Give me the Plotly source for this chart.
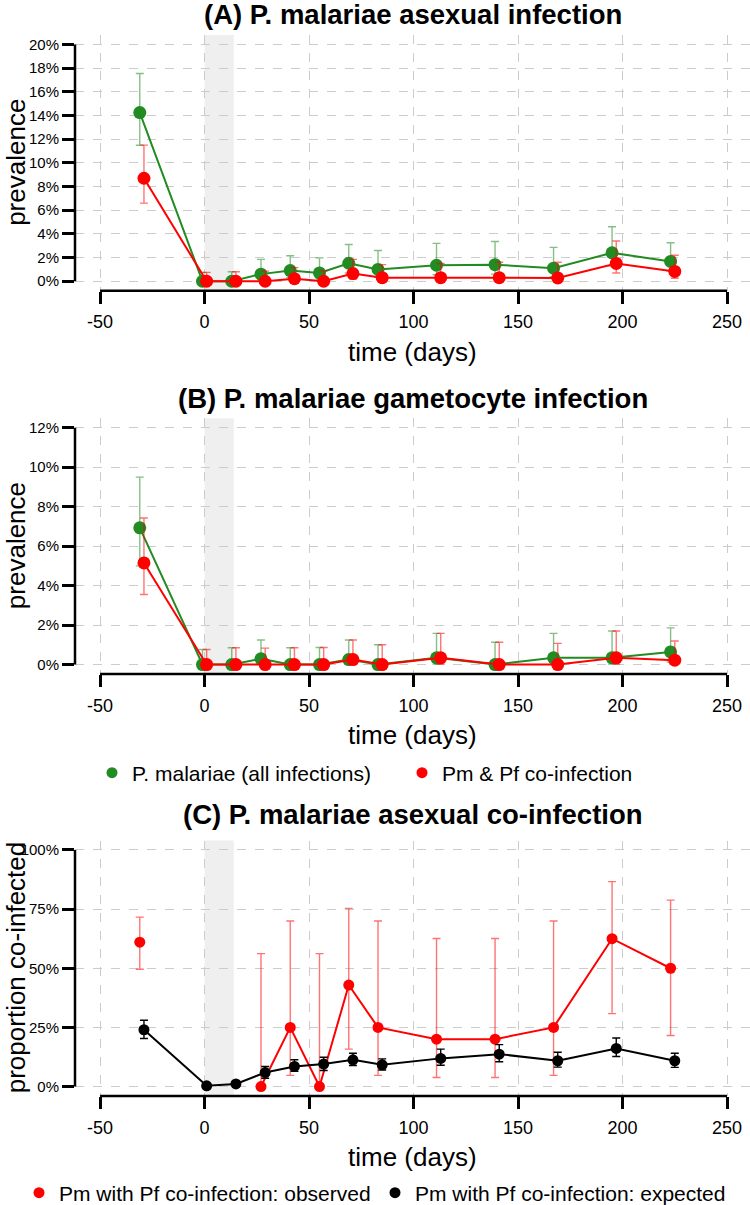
import plotly.graph_objects as go

W, H = 750, 1205
ML = 75  # left margin in px
FONT = "Liberation Sans, Arial, sans-serif"

# ---------------- data ----------------
TIMES = [-30, 0, 14, 28, 42, 56, 70, 84, 112, 140, 168, 196, 224]
TREAT_START, TREAT_END = 0, 14
X_TICKS = [-50, 0, 50, 100, 150, 200, 250]

# Panel A: asexual prevalence (%)
A_ALL = [14.25, 0, 0, 0.6, 0.9, 0.7, 1.52, 1.0, 1.35, 1.4, 1.1, 2.4, 1.67]
A_ALL_HI = [17.55, 0.75, 0.8, 1.85, 2.15, 1.97, 3.1, 2.6, 3.2, 3.35, 2.86, 4.6, 3.25]
A_ALL_LO = [11.49, 0, 0, 0.15, 0.3, 0.2, 0.7, 0.35, 0.55, 0.6, 0.38, 1.3, 0.85]
A_CO = [8.7, 0, 0, 0, 0.22, 0, 0.65, 0.3, 0.3, 0.3, 0.28, 1.5, 0.83]
A_CO_HI = [11.5, 0.75, 0.8, 0.85, 1.15, 0.9, 1.85, 1.4, 1.5, 1.6, 1.6, 3.4, 2.2]
A_CO_LO = [6.6, 0, 0, 0, 0.03, 0, 0.18, 0.04, 0.04, 0.04, 0.04, 0.7, 0.25]
A_YTICKS = [0, 2, 4, 6, 8, 10, 12, 14, 16, 18, 20]

# Panel B: gametocyte prevalence (%)
B_ALL = [6.93, 0, 0, 0.29, 0, 0, 0.25, 0, 0.34, 0, 0.34, 0.34, 0.64]
B_ALL_HI = [9.5, 0.76, 0.85, 1.24, 0.85, 0.86, 1.24, 1.0, 1.58, 1.13, 1.58, 1.7, 1.86]
B_ALL_LO = [5.0, 0, 0, 0.01, 0, 0, 0.01, 0, 0.02, 0, 0.02, 0.02, 0.13]
B_CO = [5.15, 0, 0, 0, 0, 0, 0.25, 0, 0.34, 0, 0, 0.34, 0.22]
B_CO_HI = [7.43, 0.76, 0.85, 0.83, 0.85, 0.86, 1.24, 1.0, 1.58, 1.13, 1.07, 1.7, 1.19]
B_CO_LO = [3.55, 0, 0, 0, 0, 0, 0.01, 0, 0.02, 0, 0, 0.02, 0.01]
B_YTICKS = [0, 2, 4, 6, 8, 10, 12]

# Panel C: proportion co-infected (%)
C_OBS = [61, None, None, 0, 25, 0, 42.9, 25, 20, 20, 25, 62.5, 50]
C_OBS_HI = [71.6, None, None, 56.2, 70, 56.2, 75.3, 70, 62.6, 62.6, 70, 86.6, 78.8]
C_OBS_LO = [49.6, None, None, 0, 4.7, 0, 15.8, 4.7, 3.8, 3.8, 4.7, 30.8, 21.6]
C_EXP = [24, 0.3, 1.1, 5.9, 8.5, 9.5, 11.3, 9.2, 11.9, 13.7, 10.9, 16.1, 10.9]
C_EXP_HI = [28, 0.6, 1.6, 8.5, 11.3, 12.4, 14.1, 11.7, 15.8, 17.7, 14.5, 20.5, 14.1]
C_EXP_LO = [20.3, 0.1, 0.7, 3.5, 6.4, 6.8, 8.9, 7.0, 9.0, 10.5, 8.2, 12.7, 8.1]
C_YTICKS = [0, 25, 50, 75, 100]

TITLES = ["(A) P. malariae asexual infection",
          "(B) P. malariae gametocyte infection",
          "(C) P. malariae asexual co-infection"]
YLABELS = ["prevalence", "prevalence", "proportion co-infected"]
XLABEL = "time (days)"
NAMES_AB = ["P. malariae (all infections)", "Pm & Pf co-infection"]
NAMES_C = ["Pm with Pf co-infection: observed", "Pm with Pf co-infection: expected"]

GREEN = "#228B22"
RED = "#FF0000"
BLACK = "#000000"
GREEN_ERR = "rgba(34,139,34,0.55)"
RED_ERR = "rgba(255,0,0,0.55)"
DODGE = 1.0

# ---------------- layout helpers ----------------
def py(pix):
    return 1 - pix / H


def px(pix):
    return (pix - ML) / (W - ML)


# plot areas (pixel top, bottom) and title centre targets
PANELS = [(35.0, 290.7), (418.3, 674.0), (840.5, 1096.0)]
TITLE_Y = [15, 399, 814]


def yrange(ticks):
    span = max(ticks) - min(ticks)
    return [min(ticks) - 0.04 * span, max(ticks) + 0.04 * span]


fig = go.Figure()


def add_series(idx, t_off, vals, lo, hi, color, ecolor, msize):
    xa = "x" if idx == 1 else f"x{idx}"
    ya = "y" if idx == 1 else f"y{idx}"
    xs = [t + t_off for t in TIMES]
    up = [(h - v) if v is not None else None for v, h in zip(vals, hi)]
    dn = [(v - l) if v is not None else None for v, l in zip(vals, lo)]
    fig.add_trace(go.Scatter(
        x=xs, y=vals, mode="markers", xaxis=xa, yaxis=ya, showlegend=False,
        marker=dict(size=msize, color="rgba(0,0,0,0)"),
        error_y=dict(type="data", symmetric=False, array=up, arrayminus=dn,
                     color=ecolor, thickness=1.4, width=4),
        hoverinfo="skip"))
    fig.add_trace(go.Scatter(
        x=xs, y=vals, mode="lines+markers", xaxis=xa, yaxis=ya, showlegend=False,
        line=dict(color=color, width=2), marker=dict(size=msize, color=color),
        connectgaps=False))


add_series(1, -DODGE, A_ALL, A_ALL_LO, A_ALL_HI, GREEN, GREEN_ERR, 13)
add_series(1, +DODGE, A_CO, A_CO_LO, A_CO_HI, RED, RED_ERR, 13)
add_series(2, -DODGE, B_ALL, B_ALL_LO, B_ALL_HI, GREEN, GREEN_ERR, 13)
add_series(2, +DODGE, B_CO, B_CO_LO, B_CO_HI, RED, RED_ERR, 13)
add_series(3, -DODGE, C_OBS, C_OBS_LO, C_OBS_HI, RED, RED_ERR, 11)
add_series(3, +DODGE, C_EXP, C_EXP_LO, C_EXP_HI, BLACK, BLACK, 11)

# legend-only entries
for name, col in zip(NAMES_AB, [GREEN, RED]):
    fig.add_trace(go.Scatter(x=[None], y=[None], mode="markers", name=name,
                             marker=dict(size=11, color=col), legend="legend"))
for name, col, lg in zip(NAMES_C, [RED, BLACK], ["legend2", "legend3"]):
    fig.add_trace(go.Scatter(x=[None], y=[None], mode="markers", name=name,
                             marker=dict(size=11, color=col), legend=lg,
                             xaxis="x3", yaxis="y3"))

XR = [-62, 261]
axis_common = dict(showline=False, zeroline=False, showgrid=True, automargin=False,
                   gridcolor="#cccccc", griddash="dash", gridwidth=1,
                   ticks="outside", ticklen=12, tickwidth=2.5, tickcolor="black")

layout = dict(width=W, height=H, plot_bgcolor="white", paper_bgcolor="white",
              margin=dict(l=ML, r=0, t=0, b=0, autoexpand=False),
              font=dict(family=FONT, color="black"), showlegend=True)

yt_all = [A_YTICKS, B_YTICKS, C_YTICKS]
shapes, annotations = [], []
for i, ((top, bot), yt) in enumerate(zip(PANELS, yt_all), start=1):
    sfx = "" if i == 1 else str(i)
    layout[f"xaxis{sfx}"] = dict(domain=[0, 1], range=XR, tickvals=X_TICKS,
                                 ticktext=[str(v) for v in X_TICKS],
                                 anchor=f"y{sfx}", tickfont=dict(size=18),
                                 ticklabelstandoff=3, **axis_common)
    layout[f"yaxis{sfx}"] = dict(domain=[py(bot), py(top)], range=yrange(yt),
                                 tickvals=yt, ticktext=[f"{v}%" for v in yt],
                                 anchor=f"x{sfx}",
                                 tickfont=dict(size=15), **axis_common)
    xr, yr = f"x{sfx}", f"y{sfx}"
    shapes.append(dict(type="rect", xref=xr, yref=f"{yr} domain",
                       x0=TREAT_START, x1=TREAT_END, y0=0, y1=1,
                       fillcolor="#efefef", line=dict(width=0), layer="below"))
    shapes.append(dict(type="line", xref=xr, yref=f"{yr} domain",
                       x0=min(X_TICKS), x1=max(X_TICKS), y0=0, y1=0,
                       line=dict(color="black", width=2.5)))
    shapes.append(dict(type="line", xref=f"{xr} domain", yref=yr,
                       x0=0, x1=0, y0=min(yt), y1=max(yt),
                       line=dict(color="black", width=2.5)))
    annotations.append(dict(text=f"<b>{TITLES[i-1]}</b>", xref="paper", yref="paper",
                            x=0.5, y=py(TITLE_Y[i-1]), xanchor="center", yanchor="middle",
                            showarrow=False, font=dict(size=27.5)))
    annotations.append(dict(text=XLABEL, xref="paper", yref="paper",
                            x=0.5, y=py(bot + 61), xanchor="center", yanchor="middle",
                            showarrow=False, font=dict(size=26)))
    annotations.append(dict(text=YLABELS[i-1], xref="paper", yref="paper",
                            x=px(16), y=py((top + bot) / 2),
                            xanchor="center", yanchor="middle", textangle=-90,
                            showarrow=False, font=dict(size=26)))

layout["shapes"] = shapes
layout["annotations"] = annotations
leg_common = dict(orientation="h", xanchor="left", yanchor="middle",
                  font=dict(size=21), bgcolor="rgba(0,0,0,0)")
layout["legend"] = dict(x=px(92), y=py(773), entrywidth=265,
                        entrywidthmode="pixels", **leg_common)
layout["legend2"] = dict(x=px(19), y=py(1193), **leg_common)
layout["legend3"] = dict(x=px(375), y=py(1193), **leg_common)

fig.update_layout(**layout)
fig.write_html("out.html", config={"displayModeBar": False},
               post_script="document.body.style.margin='0';")
